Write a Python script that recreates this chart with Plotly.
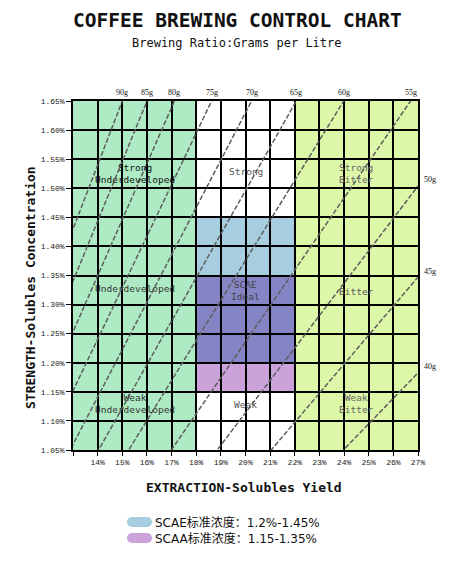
import plotly.graph_objects as go

# ---------------- data ----------------
title_text = "COFFEE BREWING CONTROL CHART"
subtitle_text = "Brewing Ratio:Grams per Litre"
x_title = "EXTRACTION-Solubles Yield"
y_title = "STRENGTH-Solubles Concentration"

x_ticks = list(range(13, 28))                       # extraction %
x_ticklabels = [""] + [f"{v}%" for v in range(14, 28)]
y_ticks = [1.05, 1.10, 1.15, 1.20, 1.25, 1.30, 1.35, 1.40, 1.45, 1.50, 1.55, 1.60, 1.65]
y_ticklabels = [f"{v:.2f}%" for v in y_ticks]

# brewing ratio lines (g per litre) and slope (TDS% per EY%)
ratio_labels = ["90g", "85g", "80g", "75g", "70g", "65g", "60g", "55g", "50g", "45g", "40g"]
ratio_slopes = [0.1100, 0.1031, 0.0964, 0.0886, 0.0815, 0.0748, 0.0688, 0.0618, 0.0557, 0.0499, 0.0438]

# zones (extraction ranges)
under_range = [13, 18]
ideal_range = [18, 22]
bitter_range = [22, 27]
scae_strength = [1.20, 1.45]
scaa_strength = [1.15, 1.35]

zone_labels = ["Strong<br>Underdeveloped", "Strong", "Strong<br>Bitter",
               "Underdeveloped", "SCAE<br>Ideal", "Bitter",
               "Weak<br>Underdeveloped", "Weak", "Weak<br>Bitter"]
zone_label_x = [15.5, 20, 24.5, 15.5, 20, 24.5, 15.5, 20, 24.5]
zone_label_y = [1.525, 1.528, 1.525, 1.327, 1.325, 1.322, 1.130, 1.129, 1.130]
zone_label_colors = ["#111111", "#555555", "#666666", "#333333", "#444444", "#555555",
                     "#333333", "#555555", "#666666"]

legend_texts = ["SCAE标准浓度：1.2%-1.45%", "SCAA标准浓度：1.15-1.35%"]

# ---------------- style ----------------
OFF = 8                      # default page body margin
W, H = 475 - OFF, 564 - OFF
L, T = 73 - OFF, 101 - OFF
PW, PH = 345, 349
R, B = W - L - PW, H - T - PH

C_GREEN = "#AEEBC4"
C_YELLOW = "#DDF7A8"
C_BLUE = "#A6CEE0"
C_LILAC = "#CBA3DA"
C_OVER = "#8585C6"

MONO = "DejaVu Sans Mono, Noto Sans CJK SC, monospace"


def px(xp):
    return (xp - OFF - L) / PW


def py(yp):
    return (T + PH - (yp - OFF)) / PH


x_min, x_max = x_ticks[0], x_ticks[-1]
y_min, y_max = y_ticks[0], y_ticks[-1]

fig = go.Figure()

shapes = []
# zone backgrounds
shapes.append(dict(type="rect", xref="x", yref="y", x0=under_range[0], x1=under_range[1],
                   y0=y_min, y1=y_max, fillcolor=C_GREEN, line_width=0, layer="below"))
shapes.append(dict(type="rect", xref="x", yref="y", x0=bitter_range[0], x1=bitter_range[1],
                   y0=y_min, y1=y_max, fillcolor=C_YELLOW, line_width=0, layer="below"))
shapes.append(dict(type="rect", xref="x", yref="y", x0=ideal_range[0], x1=ideal_range[1],
                   y0=scae_strength[0], y1=scae_strength[1], fillcolor=C_BLUE, line_width=0, layer="below"))
shapes.append(dict(type="rect", xref="x", yref="y", x0=ideal_range[0], x1=ideal_range[1],
                   y0=scaa_strength[0], y1=scaa_strength[1], fillcolor=C_LILAC, line_width=0, layer="below"))
ov0 = max(scae_strength[0], scaa_strength[0])
ov1 = min(scae_strength[1], scaa_strength[1])
shapes.append(dict(type="rect", xref="x", yref="y", x0=ideal_range[0], x1=ideal_range[1],
                   y0=ov0, y1=ov1, fillcolor=C_OVER, line_width=0, layer="below"))

# ratio lines
annotations = []
for lab, k in zip(ratio_labels, ratio_slopes):
    fig.add_trace(go.Scatter(x=[x_min - 1, x_max + 1], y=[k * (x_min - 1), k * (x_max + 1)],
                             mode="lines", line=dict(color="#5e5e5e", width=1.5, dash="5px,2px"),
                             hoverinfo="skip", showlegend=False))
    xt = y_max / k
    if xt <= x_max:
        annotations.append(dict(x=xt, y=y_max, xref="x", yref="y", text=lab, showarrow=False,
                                yanchor="bottom", yshift=2, xanchor="center",
                                font=dict(family="Liberation Serif, serif", size=8, color="#111")))
    else:
        annotations.append(dict(x=x_max, y=k * x_max, xref="x", yref="y", text=lab, showarrow=False,
                                xanchor="left", xshift=4, yshift=6,
                                font=dict(family="Liberation Serif, serif", size=8, color="#111")))

# zone labels
for t, x, y, c in zip(zone_labels, zone_label_x, zone_label_y, zone_label_colors):
    annotations.append(dict(x=x, y=y, xref="x", yref="y", text=t, showarrow=False,
                            xanchor="center", yanchor="middle",
                            font=dict(family=MONO, size=9.5, color=c)))

# titles (positions given in window pixels)
common = dict(xref="paper", yref="paper", showarrow=False, xanchor="center", yanchor="middle")
annotations.append(dict(x=px(237), y=py(20), text=f"<b>{title_text}</b>",
                        font=dict(family=MONO, size=19.5, color="#111"), **common))
annotations.append(dict(x=px(237), y=py(43), text=subtitle_text,
                        font=dict(family=MONO, size=12, color="#111"), **common))
annotations.append(dict(x=px(244), y=py(487), text=f"<b>{x_title}</b>",
                        font=dict(family=MONO, size=13, color="#111"), **common))
annotations.append(dict(x=px(30), y=py(288), text=f"<b>{y_title}</b>", textangle=-90,
                        font=dict(family=MONO, size=13, color="#111"), **common))

# legend
leg_colors = [C_BLUE, C_LILAC]
leg_y = [522, 538]
for txt, col, yc in zip(legend_texts, leg_colors, leg_y):
    r = 5
    shapes.append(dict(type="circle", xref="paper", yref="paper", x0=px(127), x1=px(127 + 2 * r),
                       y0=py(yc - r), y1=py(yc + r), fillcolor=col, line_width=0))
    shapes.append(dict(type="circle", xref="paper", yref="paper", x0=px(152 - 2 * r), x1=px(152),
                       y0=py(yc - r), y1=py(yc + r), fillcolor=col, line_width=0))
    shapes.append(dict(type="rect", xref="paper", yref="paper", x0=px(127 + r), x1=px(152 - r),
                       y0=py(yc - r), y1=py(yc + r), fillcolor=col, line_width=0))
    annotations.append(dict(x=px(153), y=py(yc), xref="paper", yref="paper", text=txt,
                            showarrow=False, xanchor="left", yanchor="middle",
                            font=dict(family="DejaVu Sans, Noto Sans CJK SC, sans-serif", size=12,
                                      color="#111")))

fig.update_layout(
    width=W, height=H,
    margin=dict(l=L, r=R, t=T, b=B, autoexpand=False),
    paper_bgcolor="white", plot_bgcolor="white",
    shapes=shapes, annotations=annotations,
    showlegend=False,
    xaxis=dict(range=[x_min, x_max], tickvals=x_ticks, ticktext=x_ticklabels,
               showgrid=True, gridcolor="#000", gridwidth=1.5, zeroline=False,
               showline=True, mirror=True, linecolor="#000", linewidth=1.5,
               ticks="outside", ticklen=4, tickcolor="#000", tickwidth=1.2,
               tickfont=dict(family="Liberation Mono, monospace", size=8, color="#222")),
    yaxis=dict(range=[y_min, y_max], tickvals=y_ticks, ticktext=y_ticklabels,
               showgrid=True, gridcolor="#000", gridwidth=1.5, zeroline=False,
               showline=True, mirror=True, linecolor="#000", linewidth=1.5,
               ticks="outside", ticklen=5, tickcolor="#000", tickwidth=1.2,
               tickfont=dict(family="Liberation Mono, monospace", size=8, color="#222")),
)

fig.write_html("out.html")
